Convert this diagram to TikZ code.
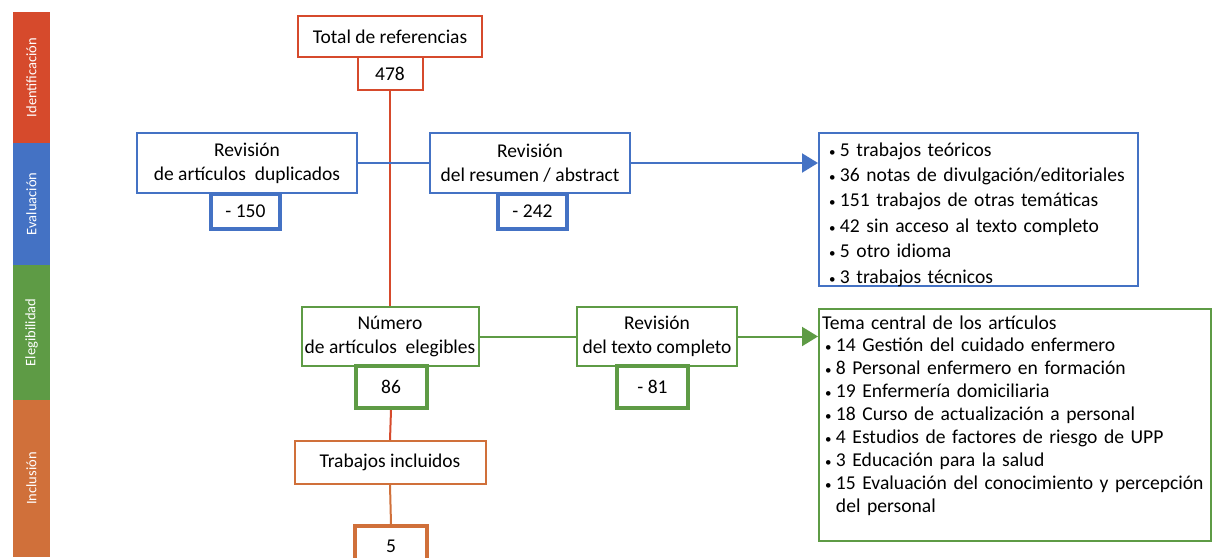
\documentclass[tikz,border=0pt]{standalone}
\usepackage{fontspec}
\setmainfont{Carlito}
\usetikzlibrary{arrows.meta}

\definecolor{rojo}{HTML}{D64A2C}
\definecolor{azul}{HTML}{4472C4}
\definecolor{verde}{HTML}{5E9B45}
\definecolor{naranja}{HTML}{D0703A}

\newcommand{\ancho}{1213}
\newcommand{\alto}{557}
\newcommand{\punto}{{\fontsize{13}{13}\selectfont\textbullet}}

\begin{document}
\begin{tikzpicture}[x=1pt,y=-1pt,
    caja/.style={draw,line width=2pt,fill=white,align=center,inner sep=2pt,
                 font=\fontsize{19.5}{24}\selectfont},
    cifra/.style={caja,line width=4pt},
    lista/.style={draw,line width=2pt,fill=white,anchor=north west,align=left,
                  inner xsep=10pt,inner ysep=4pt},
    barra/.style={rotate=90,text=white,inner sep=0pt,minimum height=37pt,
                  font=\fontsize{14.5}{16}\selectfont},
    linea/.style={line width=2pt},
    flecha/.style={line width=2pt,-{Triangle[length=16pt,width=19pt]}}]
    \clip (0,0) rectangle (\ancho,\alto);
    \fill[white] (0,0) rectangle (\ancho,\alto);

    % barras laterales
    \foreach \ya/\yb/\col/\txt [count=\i] in {12/143/rojo/Identificación,
        143/265/azul/Evaluación, 265/400/verde/Elegibilidad, 400/557/naranja/Inclusión}
    {
        \node[barra,fill=\col,minimum width=(\yb-\ya)*1pt] (barra\i) at (31.5,{(\ya+\yb)/2}) {\txt};
    }

    % identificacion
    \node[caja,draw=rojo,minimum width=184pt,minimum height=41pt] (total) at (390,36.5) {Total de referencias};
    \node[caja,draw=rojo,minimum width=65pt,minimum height=33pt] (n478) at (390,73.5) {478};

    % evaluacion
    \node[caja,draw=azul,minimum width=220pt,minimum height=60pt] (dup) at (247,163) {Revisión\\de artículos\ \ duplicados};
    \node[cifra,draw=azul,minimum width=69pt,minimum height=35pt] (m150) at (245.5,211) {- 150};
    \node[caja,draw=azul,minimum width=200pt,minimum height=60pt] (abst) at (530,163) {Revisión\\del resumen / abstract};
    \node[cifra,draw=azul,minimum width=69pt,minimum height=35pt] (m242) at (532.5,211) {- 242};
    \node[lista,draw=azul,text width=299pt,text height=19pt,text depth=126pt,
          font=\fontsize{19.6}{25.4}\selectfont] (excl) at (818,132)
    {\begin{tabular}[t]{@{}l@{\hspace{4.5pt}}l@{}}
        \punto & 5 trabajos teóricos\\
        \punto & 36 notas de divulgación/editoriales\\
        \punto & 151 trabajos de otras temáticas\\
        \punto & 42 sin acceso al texto completo\\
        \punto & 5 otro idioma\\
        \punto & 3 trabajos técnicos
    \end{tabular}};

    % elegibilidad
    \node[caja,draw=verde,minimum width=177pt,minimum height=59pt] (elegibles) at (390,336.5) {Número\\de artículos\ \ elegibles};
    \node[cifra,draw=verde,minimum width=71pt,minimum height=42pt] (n86) at (391,387) {86};
    \node[caja,draw=verde,minimum width=160pt,minimum height=59pt] (texto) at (657,336.5) {Revisión\\del texto completo};
    \node[cifra,draw=verde,minimum width=71pt,minimum height=42pt] (m81) at (652.5,387) {- 81};
    \node[lista,draw=verde,inner xsep=3pt,text width=386pt,text height=16pt,text depth=208pt,
          font=\fontsize{19.6}{22.9}\selectfont] (temas) at (818,308)
    {\begin{tabular}[t]{@{}l@{\hspace{4.5pt}}l@{}}
        \multicolumn{2}{@{}l@{}}{Tema central de los artículos}\\
        \hspace*{3pt}\punto & 14 Gestión del cuidado enfermero\\
        \hspace*{3pt}\punto & 8 Personal enfermero en formación\\
        \hspace*{3pt}\punto & 19 Enfermería domiciliaria\\
        \hspace*{3pt}\punto & 18 Curso de actualización a personal\\
        \hspace*{3pt}\punto & 4 Estudios de factores de riesgo de UPP\\
        \hspace*{3pt}\punto & 3 Educación para la salud\\
        \hspace*{3pt}\punto & 15 Evaluación del conocimiento y percepción\\
                 & del personal
    \end{tabular}};

    % inclusion
    \node[caja,draw=naranja,minimum width=191pt,minimum height=43pt] (incluidos) at (390,462.5) {Trabajos incluidos};
    \node[cifra,draw=naranja,minimum width=72pt,minimum height=40pt] (n5) at (391,546) {5};

    % conectores
    \draw[linea,rojo] (n478.south) -- (elegibles.north);
    \draw[linea,azul] (dup.east) -- (abst.west);
    \draw[flecha,azul] (abst.east) -- (abst.east -| excl.west);
    \draw[linea,verde] (elegibles.east) -- (texto.west);
    \draw[flecha,verde] (texto.east) -- (texto.east -| temas.west);
    \draw[linea,rojo] (n86.south) -- (incluidos.north);
    \draw[linea,naranja] (incluidos.south) -- (n5.north);
\end{tikzpicture}
\end{document}
